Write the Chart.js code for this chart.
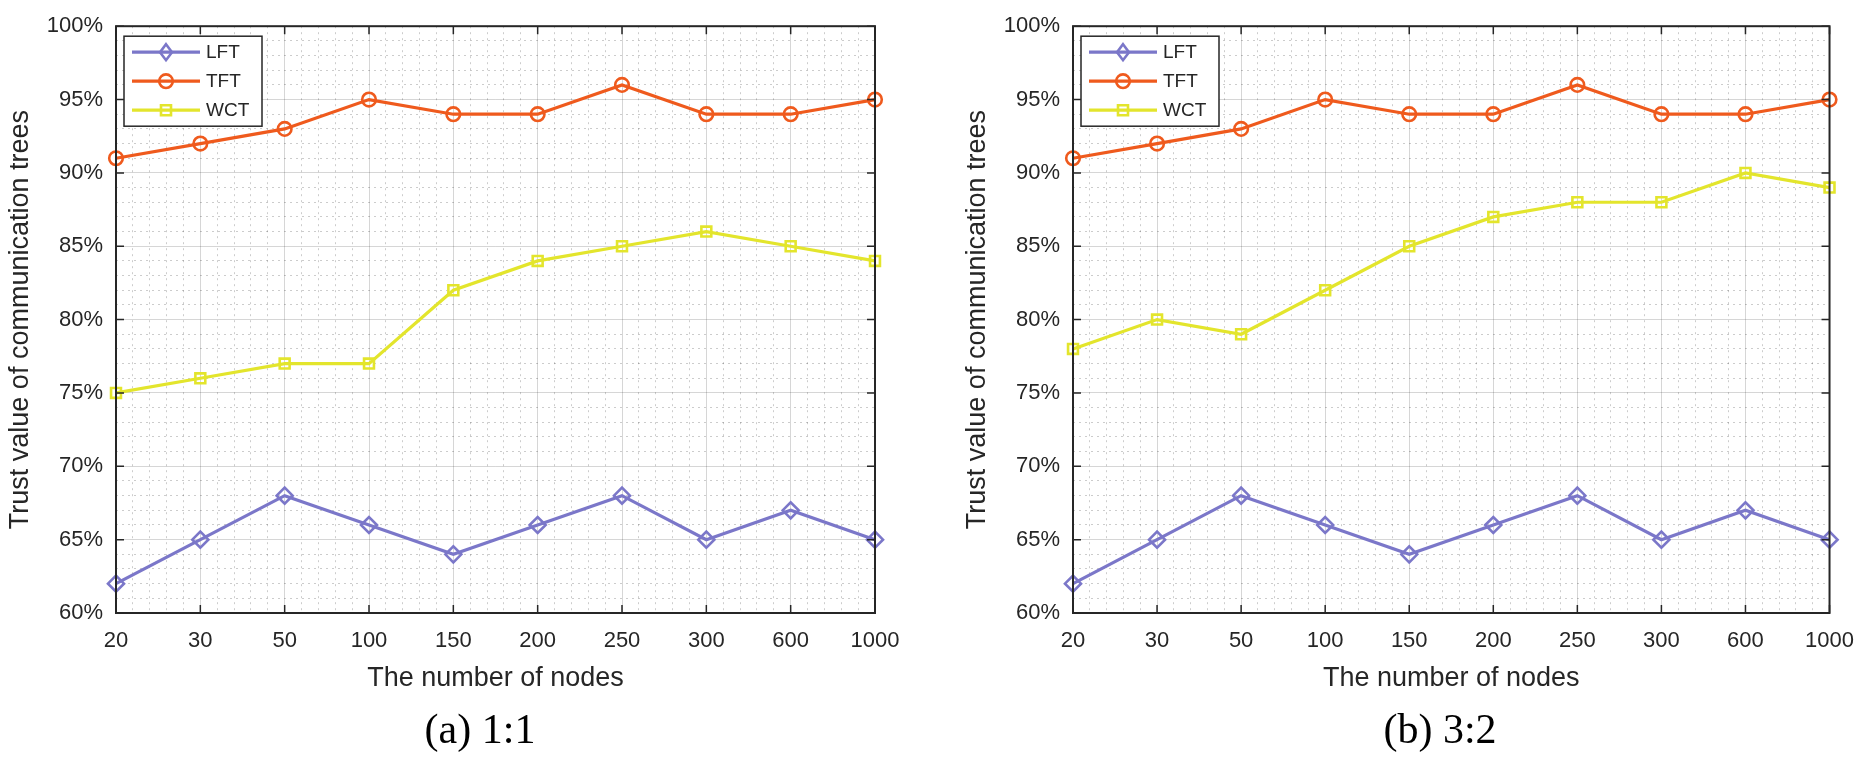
<!DOCTYPE html>
<html>
<head>
<meta charset="utf-8">
<script src="https://cdn.jsdelivr.net/npm/chart.js@4/dist/chart.umd.min.js"></script>
<style>
  html, body { margin:0; padding:0; background:#fff; }
  body { width:1869px; height:761px; position:relative; overflow:hidden; }
  .box { position:absolute; top:0; height:761px; }
  .cap { position:absolute; font-family:"Liberation Serif","Times New Roman",serif; font-size:42px; line-height:48px; color:#000; white-space:nowrap; transform:translateX(-50%); top:705px; }
</style>
</head>
<body>
<div class="box" style="left:0;width:935px;"><canvas id="c1"></canvas></div>
<div class="box" style="left:935px;width:934px;"><canvas id="c2"></canvas></div>
<div class="cap" id="cap1" style="left:480px;"></div>
<div class="cap" id="cap2" style="left:1440px;"></div>
<script>
// ---- data ----
const nodeLabels = ['20','30','50','100','150','200','250','300','600','1000'];
const yTickMin = 60, yTickMax = 100, yTickStep = 5;
const seriesNames = ['LFT','TFT','WCT'];

const lftA = [62,65,68,66,64,66,68,65,67,65];
const tftA = [91,92,93,95,94,94,96,94,94,95];
const wctA = [75,76,77,77,82,84,85,86,85,84];

const lftB = [62,65,68,66,64,66,68,65,67,65];
const tftB = [91,92,93,95,94,94,96,94,94,95];
const wctB = [78,80,79,82,85,87,88,88,90,89];

const captions = ['(a) 1:1','(b) 3:2'];

// ---- styles ----
const colLFT = '#7b77c9';
const colTFT = '#ef5a1d';
const colWCT = '#e3e52c';
const textCol = '#262626';
const FONT = '"Liberation Sans", Arial, sans-serif';

document.getElementById('cap1').textContent = captions[0];
document.getElementById('cap2').textContent = captions[1];

function pts(arr){ return arr.map((v,i)=>({x:i, y:v})); }

function mkDatasets(lft, tft, wct){
  const base = {borderWidth:3.2, pointBorderWidth:2.6, pointBackgroundColor:'rgba(0,0,0,0)', tension:0, fill:false, clip:false};
  return [
    Object.assign({}, base, {label:seriesNames[0], data:pts(lft), borderColor:colLFT, pointBorderColor:colLFT, pointStyle:'rectRot', pointRadius:8}),
    Object.assign({}, base, {label:seriesNames[1], data:pts(tft), borderColor:colTFT, pointBorderColor:colTFT, pointStyle:'circle', pointRadius:6.8}),
    Object.assign({}, base, {label:seriesNames[2], data:pts(wct), borderColor:colWCT, pointBorderColor:colWCT, pointStyle:'rect', pointRadius:7})
  ];
}

// frame + inward ticks + legend drawn MATLAB style
const framePlugin = {
  id:'frame',
  afterDatasetsDraw(chart){
    const {ctx, chartArea:a, scales} = chart;
    const xs = scales.x, ys = scales.y;
    ctx.save();
    ctx.strokeStyle = '#262626';
    ctx.lineWidth = 2;
    ctx.strokeRect(a.left, a.top, a.right-a.left, a.bottom-a.top);
    ctx.lineWidth = 1.5;
    const tl = 8;
    for (let i=0;i<nodeLabels.length;i++){
      const px = xs.getPixelForValue(i);
      ctx.beginPath();
      ctx.moveTo(px, a.bottom); ctx.lineTo(px, a.bottom - tl);
      ctx.moveTo(px, a.top); ctx.lineTo(px, a.top + tl);
      ctx.stroke();
    }
    for (let v=yTickMin; v<=yTickMax; v+=yTickStep){
      const py = ys.getPixelForValue(v);
      ctx.beginPath();
      ctx.moveTo(a.left, py); ctx.lineTo(a.left + tl, py);
      ctx.moveTo(a.right, py); ctx.lineTo(a.right - tl, py);
      ctx.stroke();
    }
    // legend box
    const lx = a.left + 8, ly = a.top + 10, lw = 138, lh = 90;
    ctx.fillStyle = '#fff';
    ctx.fillRect(lx, ly, lw, lh);
    ctx.strokeStyle = '#262626';
    ctx.lineWidth = 1.5;
    ctx.strokeRect(lx, ly, lw, lh);
    const ds = chart.data.datasets;
    ctx.font = '19px ' + FONT;
    ctx.textBaseline = 'middle';
    ctx.textAlign = 'left';
    ds.forEach((d, i) => {
      const ry = ly + 16 + i*29;
      const x1 = lx + 8, x2 = lx + 76, xm = (x1+x2)/2;
      ctx.strokeStyle = d.borderColor;
      ctx.lineWidth = 3.2;
      ctx.beginPath(); ctx.moveTo(x1, ry); ctx.lineTo(x2, ry); ctx.stroke();
      ctx.lineWidth = 2.6;
      ctx.beginPath();
      if (d.pointStyle === 'rectRot'){
        ctx.moveTo(xm, ry-8); ctx.lineTo(xm+6, ry); ctx.lineTo(xm, ry+8); ctx.lineTo(xm-6, ry); ctx.closePath();
      } else if (d.pointStyle === 'circle'){
        ctx.arc(xm, ry, 6.8, 0, Math.PI*2);
      } else {
        ctx.rect(xm-5, ry-5, 10, 10);
      }
      ctx.stroke();
      ctx.fillStyle = textCol;
      ctx.fillText(d.label, x2 + 6, ry + 1);
    });
    ctx.restore();
  }
};

function mkChart(id, lft, tft, wct, padLeft, padRight){
  return new Chart(document.getElementById(id), {
    type:'line',
    data:{ datasets: mkDatasets(lft, tft, wct) },
    plugins:[framePlugin],
    options:{
      responsive:true, maintainAspectRatio:false, animation:false,
      layout:{ padding:{ left:padLeft, right:padRight, top:13, bottom:66 } },
      plugins:{ legend:{display:false}, tooltip:{enabled:false} },
      scales:{
        xm:{
          type:'linear', position:'bottom', min:0, max:nodeLabels.length-1,
          display:true,
          ticks:{ display:false, stepSize:0.2, autoSkip:false },
          grid:{ drawTicks:false, lineWidth:1,
                 color:(c)=> (Math.abs(c.tick.value - Math.round(c.tick.value))<1e-6) ? 'rgba(0,0,0,0)' : 'rgba(0,0,0,0.2)' },
          border:{ display:false, dash:[2,4] },
          afterFit:(s)=>{ s.height = 0; }
        },
        ym:{
          type:'linear', position:'left', min:yTickMin, max:yTickMax,
          ticks:{ display:false, stepSize:1 },
          grid:{ drawTicks:false, lineWidth:1,
                 color:(c)=> (c.tick.value % yTickStep === 0) ? 'rgba(0,0,0,0)' : 'rgba(0,0,0,0.2)' },
          border:{ display:false, dash:[2,4] },
          afterFit:(s)=>{ s.width = 0; }
        },
        x:{
          type:'linear', position:'bottom', min:0, max:nodeLabels.length-1,
          ticks:{ stepSize:1, autoSkip:false, padding:15, color:textCol, font:{family:FONT, size:22},
                  maxRotation:0, callback:(v)=> nodeLabels[v] },
          grid:{ drawTicks:false, color:'rgba(0,0,0,0.16)', lineWidth:1 },
          border:{ display:false },
          title:{ display:true, text:'The number of nodes', color:textCol, font:{family:FONT, size:27}, padding:{top:7, bottom:0} },
          afterFit:(s)=>{ s.height = 82; }
        },
        y:{
          type:'linear', position:'left', min:yTickMin, max:yTickMax,
          ticks:{ stepSize:yTickStep, padding:13, color:textCol, font:{family:FONT, size:22},
                  callback:(v)=> v + '%' },
          grid:{ drawTicks:false, color:'rgba(0,0,0,0.16)', lineWidth:1 },
          border:{ display:false },
          title:{ display:true, text:'Trust value of communication trees', color:textCol, font:{family:FONT, size:27}, padding:{top:4, bottom:0} },
          afterFit:(s)=>{ s.width = 116; }
        }
      }
    }
  });
}

mkChart('c1', lftA, tftA, wctA, 0, 60);
mkChart('c2', lftB, tftB, wctB, 22, 37);
</script>
</body>
</html>
